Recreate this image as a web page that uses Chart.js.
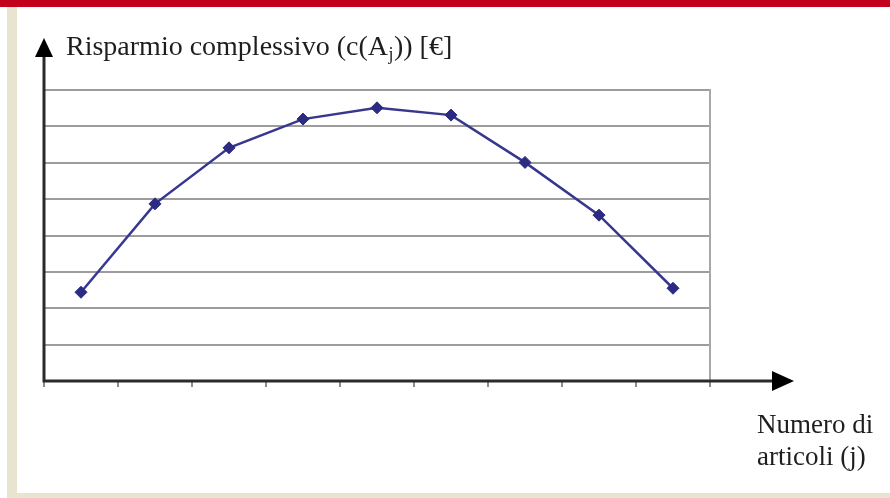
<!DOCTYPE html>
<html>
<head>
<meta charset="utf-8">
<script src="https://cdn.jsdelivr.net/npm/chart.js@4/dist/chart.umd.min.js"></script>
<style>
  html, body { margin: 0; padding: 0; background: #ffffff; }
  #wrap { width: 890px; height: 498px; position: relative; }
</style>
</head>
<body>
<div id="wrap"><canvas id="c" width="890" height="498"></canvas></div>
<script>
// Number of articles j (categories) and cumulative savings c(A_j)
const articoli = ['1', '2', '3', '4', '5', '6', '7', '8', '9'];
const risparmio = [2.44, 4.87, 6.41, 7.20, 7.51, 7.31, 6.01, 4.56, 2.55];
// Horizontal reference levels on the value axis
const livelli = [0, 1, 2, 3, 4, 5, 6, 7, 8];

const yTitle = ['Risparmio complessivo (c(A', 'j', ')) [€]'];
const xTitle = ['Numero di', 'articoli (j)'];

const SERIF = '"Liberation Serif", "Times New Roman", serif';

// Page frame, axes with arrowheads, tick marks and axis titles
const decor = {
  id: 'decor',
  beforeDraw(chart) {
    const ctx = chart.ctx;
    ctx.save();
    ctx.fillStyle = '#ffffff';
    ctx.fillRect(0, 0, chart.width, chart.height);
    // red band on top
    ctx.fillStyle = '#c3001b';
    ctx.fillRect(0, 0, chart.width, 7);
    // beige margins left and bottom
    ctx.fillStyle = '#e9e4cf';
    ctx.fillRect(7, 7, 10, chart.height - 7);
    ctx.fillRect(7, 493, chart.width - 7, 5);
    ctx.restore();
  },
  afterDraw(chart) {
    const ctx = chart.ctx;
    const a = chart.chartArea;
    const xs = chart.scales.x;
    ctx.save();
    // right border of plot area
    ctx.strokeStyle = '#a8a8a8';
    ctx.lineWidth = 2;
    ctx.beginPath();
    ctx.moveTo(a.right, a.top - 1);
    ctx.lineTo(a.right, a.bottom);
    ctx.stroke();
    // tick marks between categories
    ctx.strokeStyle = '#8c8c8c';
    ctx.lineWidth = 2;
    for (let i = 0; i <= articoli.length; i++) {
      const x = Math.round(xs.getPixelForValue(i - 0.5));
      ctx.beginPath();
      ctx.moveTo(x, a.bottom);
      ctx.lineTo(x, a.bottom + 6);
      ctx.stroke();
    }
    // axes
    ctx.strokeStyle = '#2a2a2a';
    ctx.lineWidth = 3;
    ctx.beginPath();
    ctx.moveTo(a.left, a.bottom);
    ctx.lineTo(a.left, 55);
    ctx.moveTo(a.left - 1.5, a.bottom);
    ctx.lineTo(774, a.bottom);
    ctx.stroke();
    // arrowheads
    ctx.fillStyle = '#000000';
    ctx.beginPath();
    ctx.moveTo(a.left, 38);
    ctx.lineTo(a.left + 9, 57);
    ctx.lineTo(a.left - 9, 57);
    ctx.closePath();
    ctx.fill();
    ctx.beginPath();
    ctx.moveTo(794, a.bottom);
    ctx.lineTo(772, a.bottom - 10);
    ctx.lineTo(772, a.bottom + 10);
    ctx.closePath();
    ctx.fill();
    // titles
    ctx.fillStyle = '#1e1e1e';
    ctx.textBaseline = 'alphabetic';
    ctx.textAlign = 'left';
    let x = 66;
    ctx.font = '28px ' + SERIF;
    ctx.fillText(yTitle[0], x, 55);
    x += ctx.measureText(yTitle[0]).width;
    ctx.font = '18px ' + SERIF;
    ctx.fillText(yTitle[1], x + 0.5, 60);
    x += ctx.measureText(yTitle[1]).width + 1;
    ctx.font = '28px ' + SERIF;
    ctx.fillText(yTitle[2], x, 55);
    ctx.font = '27px ' + SERIF;
    ctx.fillText(xTitle[0], 757, 433);
    ctx.fillText(xTitle[1], 757, 465);
    ctx.restore();
  }
};

new Chart(document.getElementById('c'), {
  type: 'line',
  data: {
    labels: articoli,
    datasets: [{
      data: risparmio,
      borderColor: '#37378f',
      borderWidth: 2.5,
      tension: 0,
      pointStyle: 'rectRot',
      pointRadius: 6,
      pointBackgroundColor: '#2b2b82',
      pointBorderColor: '#2b2b82',
      pointBorderWidth: 1,
      clip: false
    }]
  },
  options: {
    responsive: false,
    animation: false,
    devicePixelRatio: 1,
    layout: { padding: { left: 44, right: 180, top: 90, bottom: 117 } },
    plugins: { legend: { display: false }, tooltip: { enabled: false } },
    scales: {
      x: {
        type: 'category',
        offset: true,
        grid: { display: false },
        border: { display: false },
        ticks: { display: false },
        afterFit(s) { s.height = 0; }
      },
      y: {
        min: livelli[0],
        max: livelli[livelli.length - 1],
        afterBuildTicks(s) { s.ticks = livelli.map(v => ({ value: v })); },
        grid: {
          drawTicks: false,
          lineWidth: 2,
          color: c => (c.tick && c.tick.value === 0) ? 'rgba(0,0,0,0)' : '#9c9c9c'
        },
        border: { display: false },
        ticks: { display: false },
        afterFit(s) { s.width = 0; }
      }
    }
  },
  plugins: [decor]
});
</script>
</body>
</html>
